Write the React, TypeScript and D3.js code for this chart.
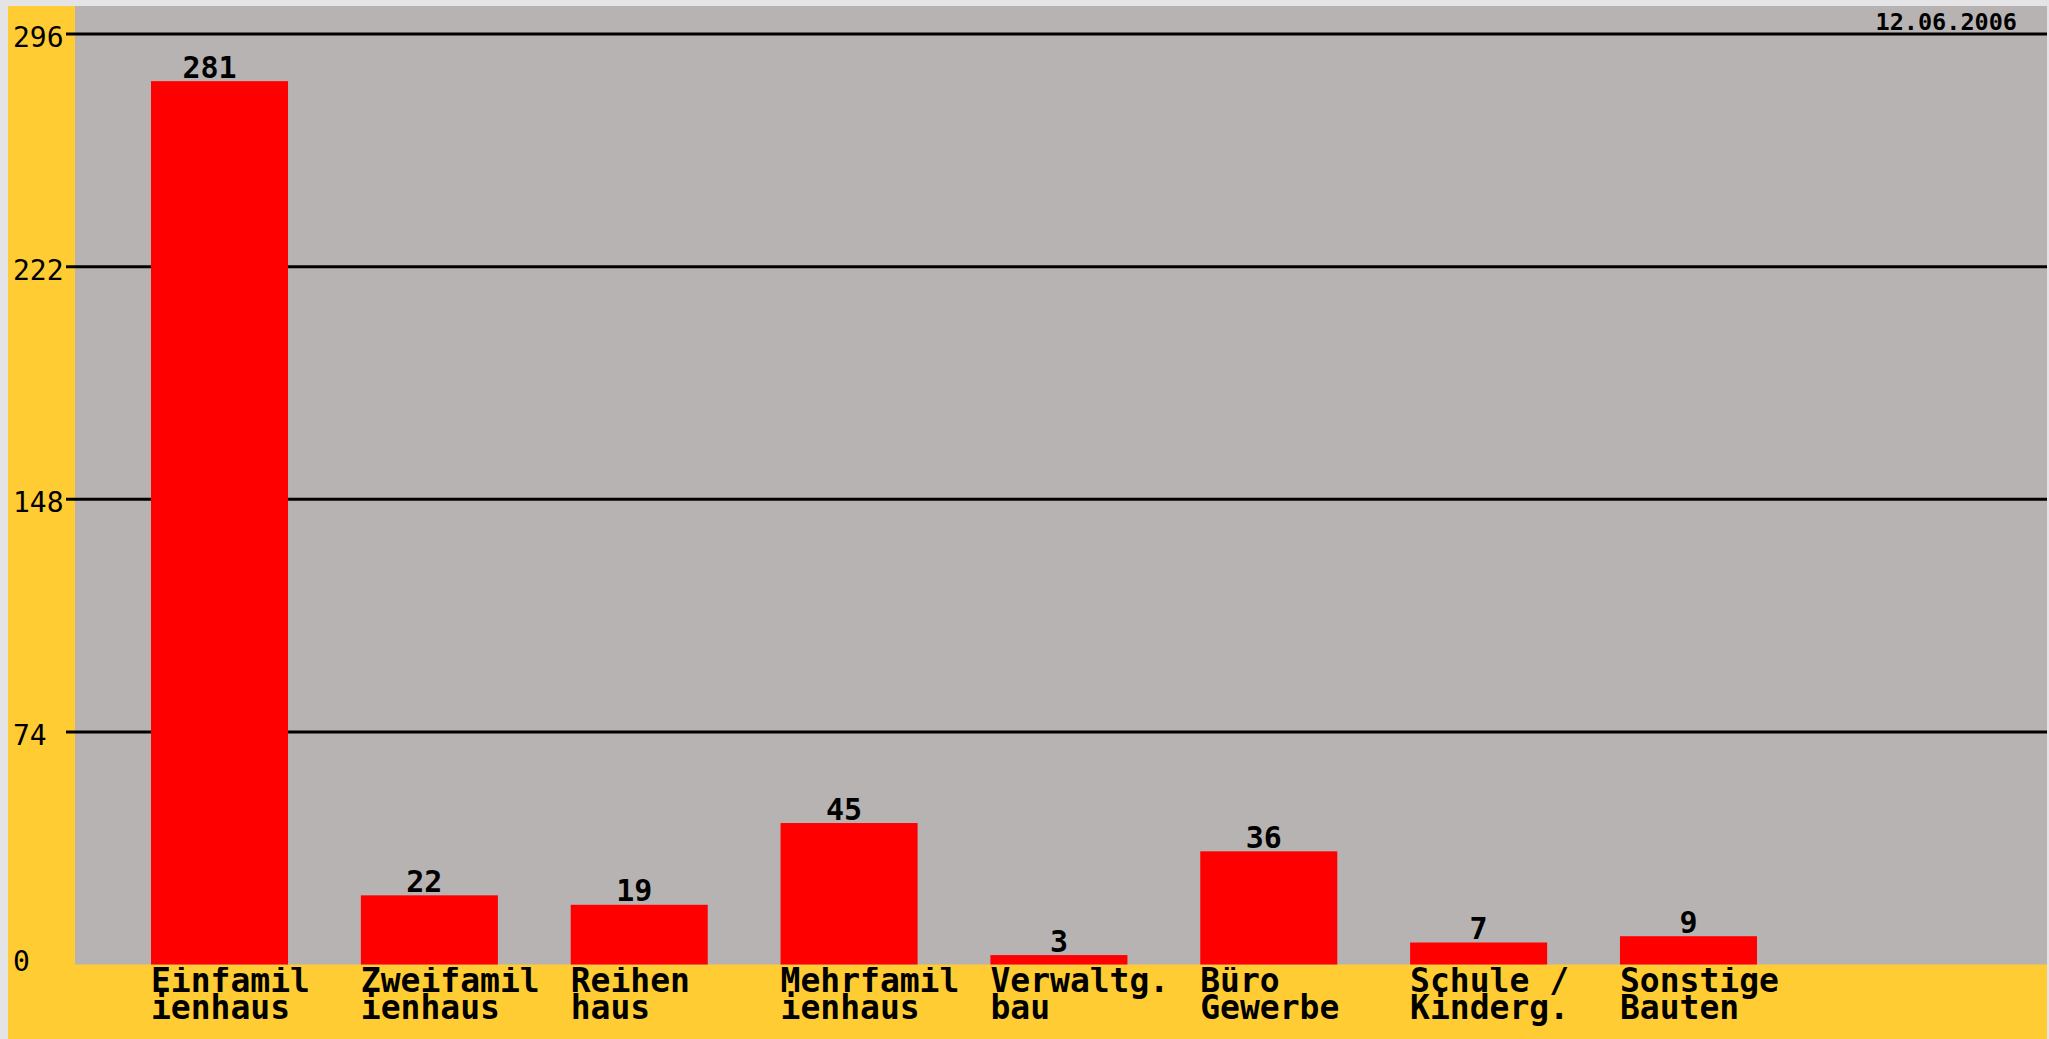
import React from "react";
import * as d3 from "d3";

const categories: string[][] = [
  ["Einfamil", "ienhaus"],
  ["Zweifamil", "ienhaus"],
  ["Reihen", "haus"],
  ["Mehrfamil", "ienhaus"],
  ["Verwaltg.", "bau"],
  ["Büro", "Gewerbe"],
  ["Schule /", "Kinderg."],
  ["Sonstige", "Bauten"],
];
const values: number[] = [281, 22, 19, 45, 3, 36, 7, 9];
const yTicks: number[] = [0, 74, 148, 222, 296];
const dateLabel = "12.06.2006";

const W = 2049;
const H = 1039;
const FONT = "'DejaVu Sans Mono', 'Liberation Mono', monospace";

export default function App() {
  const chartLeft = 8;
  const chartTop = 6;
  const chartRight = 2047;
  const plotLeft = 75;
  const plotBottom = 964.5;
  const plotTop = chartTop;

  const keys = categories.map((c) => c.join(""));
  const x = d3
    .scaleBand<string>()
    .domain(keys)
    .range([151, 1757])
    .paddingInner(0.347)
    .paddingOuter(0);
  const y = d3.scaleLinear().domain([0, 296]).range([plotBottom, 34]);

  return (
    <svg
      width={W}
      height={H}
      style={{ position: "fixed", left: 0, top: 0, display: "block" }}
    >
      <rect x={0} y={0} width={W} height={H} fill="#e4e4e7" />
      <rect
        x={chartLeft}
        y={chartTop}
        width={chartRight - chartLeft}
        height={H - chartTop}
        fill="#ffcc33"
      />
      <rect
        x={plotLeft}
        y={plotTop}
        width={chartRight - plotLeft}
        height={plotBottom - plotTop}
        fill="#b8b3b3"
      />
      {yTicks
        .filter((t) => t > 0)
        .map((t) => (
          <line
            key={"g" + t}
            x1={66}
            x2={chartRight}
            y1={y(t)}
            y2={y(t)}
            stroke="#000"
            strokeWidth={3}
          />
        ))}
      {yTicks.map((t) => (
        <text
          key={"t" + t}
          x={13}
          y={y(t) + (t === 0 ? 6 : 13)}
          fontFamily={FONT}
          fontSize={28}
          fill="#000"
        >
          {t}
        </text>
      ))}
      <text
        x={2017}
        y={30}
        textAnchor="end"
        fontFamily={FONT}
        fontSize={23.5}
        fontWeight="bold"
        fill="#000"
      >
        {dateLabel}
      </text>
      {values.map((v, i) => {
        const k = keys[i];
        const bx = x(k)!;
        const bw = x.bandwidth();
        const label = String(v);
        return (
          <g key={k}>
            <rect
              x={bx}
              y={y(v)}
              width={bw}
              height={plotBottom - y(v)}
              fill="#ff0000"
            />
            <text
              x={bx + bw / 2 - (label.length - 1) * 5}
              y={y(v) - 3.5}
              textAnchor="middle"
              fontFamily={FONT}
              fontSize={30}
              fontWeight="bold"
              fill="#000"
            >
              {label}
            </text>
            <foreignObject x={bx} y={967} width={200} height={70}>
              <div
                style={{
                  fontFamily: FONT,
                  fontSize: "33px",
                  fontWeight: "bold",
                  lineHeight: "27px",
                  color: "#000",
                  whiteSpace: "pre",
                  margin: 0,
                  padding: 0,
                }}
              >
                {categories[i].join("\n")}
              </div>
            </foreignObject>
          </g>
        );
      })}
    </svg>
  );
}
